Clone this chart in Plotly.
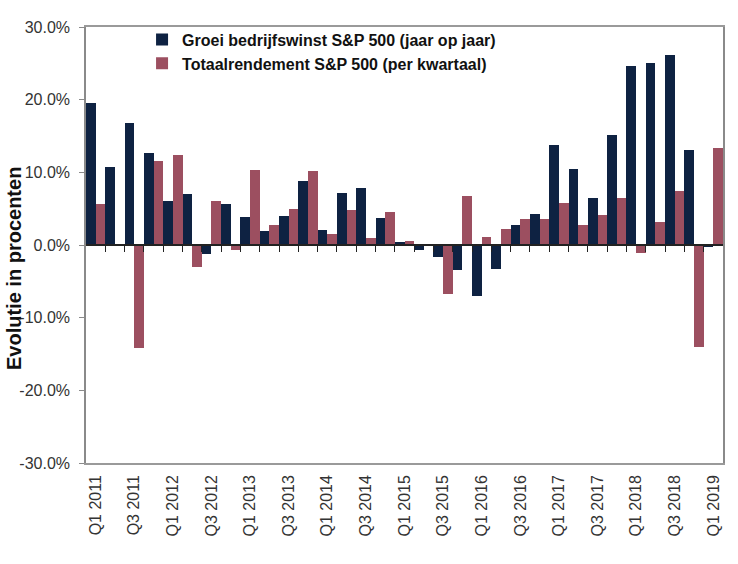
import plotly.graph_objects as go

quarters = [f"Q{q} {y}" for y in range(2011, 2019) for q in range(1, 5)] + ["Q1 2019"]

winstgroei = [19.5, 10.8, 16.8, 12.6, 6.0, 7.0, -1.3, 5.6, 3.8, 1.9, 4.0, 8.75,
              2.1, 7.1, 7.9, 3.7, 0.4, -0.7, -1.7, -3.5, -7.0, -3.3, 2.8, 4.2,
              13.7, 10.5, 6.4, 15.2, 24.7, 25.1, 26.2, 13.1, -0.3]
rendement = [5.7, -0.1, -14.2, 11.6, 12.4, -3.0, 6.1, -0.7, 10.3, 2.7, 4.9, 10.2,
             1.5, 4.8, 0.9, 4.6, 0.6, 0.1, -6.7, 6.7, 1.1, 2.2, 3.6, 3.6,
             5.8, 2.8, 4.1, 6.4, -1.1, 3.1, 7.5, -14.0, 13.4]

name_winst = "Groei bedrijfswinst S&P 500 (jaar op jaar)"
name_rend = "Totaalrendement S&P 500 (per kwartaal)"
y_title = "Evolutie in procenten"

y_ticks = [-30, -20, -10, 0, 10, 20, 30]
y_ticktext = ["-30.0%", "-20.0%", "-10.0%", "0.0%", "10.0%", "20.0%", "30.0%"]
x_ticks = quarters[::2]

FONT = "Liberation Sans, Arial, sans-serif"

fig = go.Figure()
fig.add_trace(go.Bar(x=quarters, y=winstgroei, name=name_winst,
                     marker=dict(color="#0e2242", line=dict(width=0))))
fig.add_trace(go.Bar(x=quarters, y=rendement, name=name_rend,
                     marker=dict(color="#9c4f60", line=dict(width=0))))
# invisible helper trace so the zero-line tick axis is drawn
fig.add_trace(go.Scatter(x=[0], y=[0], xaxis="x2", mode="markers",
                         marker=dict(opacity=0), showlegend=False, hoverinfo="skip"))

fig.update_layout(
    width=738, height=564,
    margin=dict(l=86, r=15, t=27, b=101),
    paper_bgcolor="white", plot_bgcolor="white",
    barmode="group", bargap=0, bargroupgap=0,
    font=dict(family=FONT, size=16, color="#333333"),
    legend=dict(x=0.088, y=1.01, xanchor="left", yanchor="top",
                bgcolor="rgba(0,0,0,0)", tracegroupgap=0,
                font=dict(family=FONT, size=16, color="#111111", weight="bold"),
                itemwidth=30),
    xaxis=dict(type="category", categoryorder="array", categoryarray=quarters,
               tickmode="array", tickvals=x_ticks, ticktext=x_ticks,
               tickangle=-90, ticks="", showgrid=False,
               showline=True, mirror=True, linecolor="#9a9a9a", linewidth=1.5,
               tickfont=dict(size=16, color="#333333"), ticklabelstandoff=4,
               range=[-0.5, len(quarters) - 0.5], automargin=False),
    xaxis2=dict(overlaying="x", anchor="free", position=0.5,
                range=[-0.5, len(quarters) - 0.5], showgrid=False,
                showline=True, linecolor="#222222", linewidth=1.5,
                tickmode="array", tickvals=[i + 0.5 for i in range(len(quarters) - 1)],
                ticks="outside", ticklen=6, tickcolor="#222222", tickwidth=1,
                showticklabels=False, zeroline=False),
    yaxis=dict(range=[-30, 30], tickmode="array", tickvals=y_ticks, ticktext=y_ticktext,
               showgrid=False, zeroline=False, automargin=False,
               showline=True, mirror=True, linecolor="#8a8a8a", linewidth=1.5,
               ticks="outside", ticklen=5, tickcolor="#8a8a8a",
               tickfont=dict(size=16, color="#333333"), ticklabelstandoff=6),
)

fig.add_annotation(text=y_title, textangle=-90, xref="paper", yref="paper",
                   x=-0.113, y=0.445, xanchor="center", yanchor="middle",
                   showarrow=False,
                   font=dict(family=FONT, size=20, color="#111111", weight="bold"))

fig.write_html("out.html")
